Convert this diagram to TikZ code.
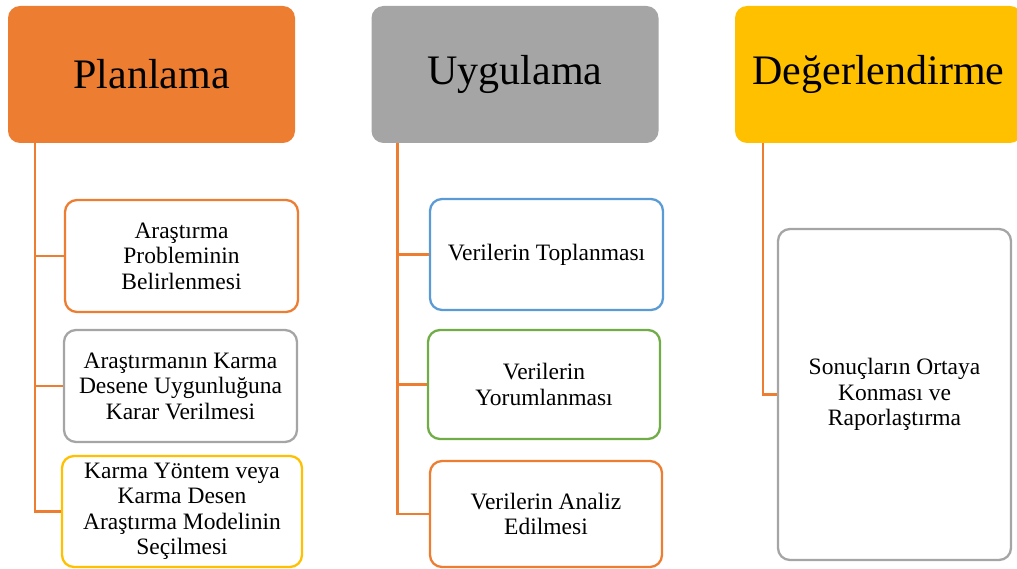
\documentclass[tikz,border=0pt]{standalone}
\usepackage{fontspec}
\setmainfont{Liberation Serif}
\definecolor{corange}{HTML}{ED7D31}
\definecolor{cgrey}{HTML}{A5A5A5}
\definecolor{cgold}{HTML}{FFC000}
\definecolor{cblue}{HTML}{5B9BD5}
\definecolor{cgreen}{HTML}{70AD47}
\begin{document}
\begin{tikzpicture}[x=1pt,y=-1pt,
  header/.style={rectangle, rounded corners=12pt, fill=#1, draw=none,
    minimum width=287pt, minimum height=137pt, inner sep=0pt,
    font=\fontsize{42}{46}\selectfont},
  child/.style={rectangle, rounded corners=12pt, draw=#1, line width=2.3pt, fill=white,
    inner sep=0pt, align=center, font=\fontsize{23.5}{25.5}\selectfont},
  conn/.style={draw=corange, line width=2.4pt}]
\useasboundingbox (0,0) rectangle (1017,569);
\begin{scope}
\clip (0,0) rectangle (1017,569);
% headers
\node[header=corange] (P) at (151.5,74.5) {Planlama};
\node[header=cgrey] (U) at (515,74.5) {Uygulama};
\node[header=cgold] (D) at (878.5,74.5) {Değerlendirme};
% Planlama children
\node[child=corange, minimum width=233pt, minimum height=112pt] (p1) at (181.5,256) {Araştırma\\Probleminin\\Belirlenmesi};
\node[child=cgrey, minimum width=233pt, minimum height=112pt] (p2) at (180.5,386) {Araştırmanın Karma\\Desene Uygunluğuna\\Karar Verilmesi};
\node[child=cgold, minimum width=240pt, minimum height=111pt] (p3) at (182,511.5) {Karma Yöntem veya\\Karma Desen\\Araştırma Modelinin\\Seçilmesi};
% Uygulama children
\node[child=cblue, minimum width=233pt, minimum height=111pt] (u1) at (546.5,254.5) {Verilerin Toplanması};
\node[child=cgreen, minimum width=232pt, minimum height=109pt] (u2) at (544,384.5) {Verilerin\\Yorumlanması};
\node[child=corange, minimum width=232pt, minimum height=106pt] (u3) at (546,514) {Verilerin Analiz\\Edilmesi};
% Degerlendirme child
\node[child=cgrey, minimum width=233pt, minimum height=331pt] (d1) at (894.5,394.5) {Sonuçların Ortaya\\Konması ve\\Raporlaştırma};
% connectors
\draw[conn] ([xshift=27pt]P.south west) |- (p1.west);
\draw[conn] ([xshift=27pt]P.south west) |- (p2.west);
\draw[conn] ([xshift=27pt]P.south west) |- (p3.west);
\draw[conn] ([xshift=26pt]U.south west) |- (u1.west);
\draw[conn] ([xshift=26pt]U.south west) |- (u2.west);
\draw[conn] ([xshift=26pt]U.south west) |- (u3.west);
\draw[conn] ([xshift=28pt]D.south west) |- (d1.west);
\end{scope}
\end{tikzpicture}
\end{document}
